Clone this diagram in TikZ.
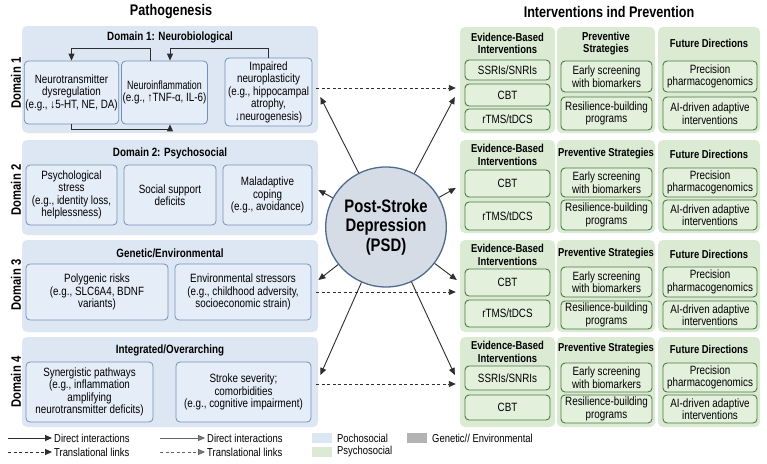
\documentclass[tikz,border=0pt]{standalone}
\usepackage{fontspec}
\setmainfont{Liberation Sans}[FakeStretch=0.82]
\usetikzlibrary{arrows.meta,calc,shapes.geometric}
\definecolor{panelB}{HTML}{DDE7F3}
\definecolor{boxBf}{HTML}{E5EDF8}
\definecolor{boxBd}{HTML}{7391B8}
\definecolor{panelG}{HTML}{DBEAD3}
\definecolor{boxGf}{HTML}{E3F0DC}
\definecolor{boxGd}{HTML}{4B7A43}
\definecolor{psdF}{HTML}{D6DCE6}
\definecolor{psdB}{HTML}{4D6C8F}
\definecolor{lineC}{HTML}{2E2E2E}
\definecolor{greyC}{HTML}{B3B3B3}
\newcommand{\mybox}[7]{\node[#1, minimum width={(#5)-(#3)}, minimum height={(#6)-(#4)}] (#2) at ({((#3)+(#5))/2},{((#4)+(#6))/2}) {#7};}
\begin{document}
\begin{tikzpicture}[x=1pt,y=-1pt,
 every node/.style={font=\fontsize{12}{12.5}\selectfont, align=center, inner sep=1pt},
 panB/.style={fill=panelB, rounded corners=5pt},
 boxB/.style={fill=boxBf, draw=boxBd, rounded corners=4pt, line width=0.8pt},
 panG/.style={fill=panelG, rounded corners=5pt},
 boxG/.style={fill=boxGf, draw=boxGd, rounded corners=4pt, line width=0.9pt},
 ttl/.style={font=\bfseries\fontsize{12}{13.5}\selectfont},
 gttl/.style={font=\bfseries\fontsize{11.5}{12.5}\selectfont},
 head/.style={font=\bfseries\fontsize{15.4}{17}\selectfont},
 dlab/.style={rotate=90, font=\bfseries\fontsize{13.7}{15}\selectfont},
 leg/.style={anchor=west, font=\fontsize{11.5}{12.5}\selectfont},
 arr/.style={draw=lineC, line width=0.9pt, -{Triangle[length=7pt,width=6pt]}},
 darr/.style={arr, dash pattern=on 3pt off 2.5pt},
 garr/.style={draw=black!60, line width=0.9pt, -{Triangle[length=7pt,width=6pt,fill=black!50]}},
 gdarr/.style={garr, dash pattern=on 3pt off 2.5pt},
]
\useasboundingbox (0,0) rectangle (767,463);
\fill[white] (0,0) rectangle (767,463);

% headers
\node[head] (h1) at (171,12) {Pathogenesis};
\node[head] (h2) at (609,12) {Interventions ind Prevention};

% left panels
\mybox{panB}{P1}{22}{26}{318}{133}{}
\mybox{panB}{P2}{22}{140}{318}{235}{}
\mybox{panB}{P3}{22}{240}{318}{332}{}
\mybox{panB}{P4}{22}{337}{318}{427}{}

\node[dlab] (L1) at (16,83) {Domain 1};
\node[dlab] (L2) at (16,190) {Domain 2};
\node[dlab] (L3) at (16,285) {Domain 3};
\node[dlab] (L4) at (16,382) {Domain 4};

% domain 1
\node[ttl] (t1) at (170,37) {Domain 1: Neurobiological};
\mybox{boxB}{d1a}{26}{61}{117}{124}{Neurotransmitter\\dysregulation\\(e.g., ↓5-HT, NE, DA)}
\mybox{boxB}{d1b}{123}{61}{206}{124}{\addfontfeature{FakeStretch=0.74}Neuroinflammation\\(e.g., ↑TNF-α, IL-6)}
\mybox{boxB}{d1c}{225}{58}{312}{126}{Impaired\\neuroplasticity\\(e.g., hippocampal\\atrophy,\\↓neurogenesis)}
\draw[arr] ([xshift=-14.5pt]d1b.north) -- ++(0,-12) -| (d1a.north);
\draw[arr] (d1c.north) -- ++(0,-9) -| ([xshift=5.5pt]d1b.north);
\draw[arr] (d1a.south) -- ++(0,5) -| ([xshift=5.5pt]d1b.south);

% domain 2
\node[ttl] (t2) at (170,153) {Domain 2: Psychosocial};
\mybox{boxB}{d2a}{26}{165}{117}{225}{Psychological\\stress\\(e.g., identity loss,\\helplessness)}
\mybox{boxB}{d2b}{124}{165}{216}{225}{Social support\\deficits}
\mybox{boxB}{d2c}{223}{165}{312}{225}{Maladaptive\\coping\\(e.g., avoidance)}

% domain 3
\node[ttl] (t3) at (170,253) {Genetic/Environmental};
\mybox{boxB}{d3a}{26}{264}{168}{320}{Polygenic risks\\(e.g., SLC6A4, BDNF\\variants)}
\mybox{boxB}{d3b}{175}{264}{311}{320}{Environmental stressors\\(e.g., childhood adversity,\\socioeconomic strain)}

% domain 4
\node[ttl] (t4) at (170,350) {Integrated/Overarching};
\mybox{boxB}{d4a}{26}{362}{153}{422}{Synergistic pathways\\(e.g., inflammation\\amplifying\\neurotransmitter deficits)}
\mybox{boxB}{d4b}{176}{362}{311}{422}{Stroke severity;\\comorbidities\\(e.g., cognitive impairment)}

% right panels
\mybox{panG}{gA1}{460}{27}{555}{133}{}
\mybox{panG}{gB1}{557}{27}{655}{133}{}
\mybox{panG}{gC1}{658}{27}{760}{133}{}
\mybox{panG}{gA2}{460}{140}{555}{233}{}
\mybox{panG}{gB2}{557}{140}{655}{233}{}
\mybox{panG}{gC2}{658}{140}{760}{233}{}
\mybox{panG}{gA3}{460}{240}{555}{332}{}
\mybox{panG}{gB3}{557}{240}{655}{332}{}
\mybox{panG}{gC3}{658}{240}{760}{332}{}
\mybox{panG}{gA4}{460}{337}{555}{427}{}
\mybox{panG}{gB4}{557}{337}{655}{427}{}
\mybox{panG}{gC4}{658}{337}{760}{427}{}

% row 1
\node[gttl] (tA1) at (507.5,43.5) {Evidence-Based\\Interventions};
\node[gttl] (tB1) at (606,43.5) {Preventive\\Strategies};
\node[gttl] (tC1) at (709,43.5) {Future Directions};
\mybox{boxG}{a11}{465}{60}{550}{80}{SSRIs/SNRIs}
\mybox{boxG}{a12}{465}{84}{550}{106}{CBT}
\mybox{boxG}{a13}{465}{109}{550}{130}{rTMS/tDCS}
\mybox{boxG}{b11}{561}{61}{652}{92}{Early screening\\with biomarkers}
\mybox{boxG}{b12}{561}{97}{652}{130}{Resilience-building\\programs}
\mybox{boxG}{c11}{663}{61}{757}{92}{Precision\\pharmacogenomics}
\mybox{boxG}{c12}{663}{97}{757}{130}{AI-driven adaptive\\interventions}

% row 2
\node[gttl] (tA2) at (507.5,155) {Evidence-Based\\Interventions};
\node[gttl] (tB2) at (606,154) {Preventive Strategies};
\node[gttl] (tC2) at (709,154) {Future Directions};
\mybox{boxG}{a21}{465}{170}{550}{197}{CBT}
\mybox{boxG}{a22}{465}{202}{550}{230}{rTMS/tDCS}
\mybox{boxG}{b21}{561}{168}{652}{197}{Early screening\\with biomarkers}
\mybox{boxG}{b22}{561}{200}{652}{230}{Resilience-building\\programs}
\mybox{boxG}{c21}{663}{168}{757}{197}{Precision\\pharmacogenomics}
\mybox{boxG}{c22}{663}{200}{757}{230}{AI-driven adaptive\\interventions}

% row 3
\node[gttl] (tA3) at (507.5,255) {Evidence-Based\\Interventions};
\node[gttl] (tB3) at (606,254) {Preventive Strategies};
\node[gttl] (tC3) at (709,254) {Future Directions};
\mybox{boxG}{a31}{465}{269}{550}{296}{CBT}
\mybox{boxG}{a32}{465}{300}{550}{327}{rTMS/tDCS}
\mybox{boxG}{b31}{561}{267}{652}{297}{Early screening\\with biomarkers}
\mybox{boxG}{b32}{561}{301}{652}{329}{Resilience-building\\programs}
\mybox{boxG}{c31}{663}{267}{757}{297}{Precision\\pharmacogenomics}
\mybox{boxG}{c32}{663}{301}{757}{329}{AI-driven adaptive\\interventions}

% row 4
\node[gttl] (tA4) at (507.5,352) {Evidence-Based\\Interventions};
\node[gttl] (tB4) at (606,349) {Preventive Strategies};
\node[gttl] (tC4) at (709,349) {Future Directions};
\mybox{boxG}{a41}{465}{366}{550}{390}{SSRIs/SNRIs}
\mybox{boxG}{a42}{465}{395}{550}{420}{CBT}
\mybox{boxG}{b41}{561}{363}{652}{392}{Early screening\\with biomarkers}
\mybox{boxG}{b42}{561}{395}{652}{423}{Resilience-building\\programs}
\mybox{boxG}{c41}{663}{363}{757}{392}{Precision\\pharmacogenomics}
\mybox{boxG}{c42}{663}{395}{757}{423}{AI-driven adaptive\\interventions}

% central node
\node[ellipse, draw=psdB, fill=psdF, line width=1.3pt, minimum width=110, minimum height=120,
      font=\bfseries\fontsize{18.1}{19.5}\selectfont] (psd) at (386,227) {Post-Stroke\\Depression\\(PSD)};

% radial arrows
\draw[arr] (psd) -- ($(d1c.east)+(8,5)$);
\draw[arr] (psd) -- ($(d2c.east)+(6,-5)$);
\draw[arr] (psd) -- ($(d3b.east)+(7,-12)$);
\draw[arr] (psd) -- ($(d4b.east)+(9,-17)$);
\draw[arr] (psd) -- ($(gA1.west)+(-5,17)$);
\draw[arr] (psd) -- ($(gA2.west)+(-4,1.5)$);
\draw[arr] (psd) -- ($(gA3.west)+(-3,-6)$);
\draw[arr] (psd) -- ($(gA4.west)+(-5,-7)$);

% dashed translational links
\draw[darr] ($(d1c.east)+(4,-4)$) -- ($(gA1.west)+(-4,8)$);
\draw[darr] ($(d3b.east)+(5,0)$) -- ($(gA3.west)+(-4,6)$);
\draw[darr] ($(d4b.east)+(5,-8)$) -- ($(gA4.west)+(-4,2)$);

% legend
\coordinate (l1s) at (8,438);  \coordinate (l1e) at (52,438);
\coordinate (l2s) at (8,452);  \coordinate (l2e) at (52,452);
\coordinate (l3s) at (160,438); \coordinate (l3e) at (205,438);
\coordinate (l4s) at (160,452); \coordinate (l4e) at (205,452);
\draw[arr] (l1s) -- (l1e);
\draw[darr] (l2s) -- (l2e);
\draw[garr] (l3s) -- (l3e);
\draw[gdarr] (l4s) -- (l4e);
\node[leg] (lt1) at (53,438) {Direct interactions};
\node[leg] (lt2) at (53,452) {Translational links};
\node[leg] (lt3) at (206,438) {Direct interactions};
\node[leg] (lt4) at (206,452) {Translational links};
\mybox{fill=panelB}{s1}{312}{433}{332}{443}{}
\mybox{fill=panelG}{s2}{312}{447}{332}{457}{}
\mybox{fill=greyC}{s3}{407}{433}{427}{443}{}
\node[leg] (st1) at (336,438) {Pochosocial};
\node[leg] (st2) at (336,452) {Psychosocial};
\node[leg] (st3) at (431,438) {Genetic// Environmental};
\end{tikzpicture}
\end{document}
